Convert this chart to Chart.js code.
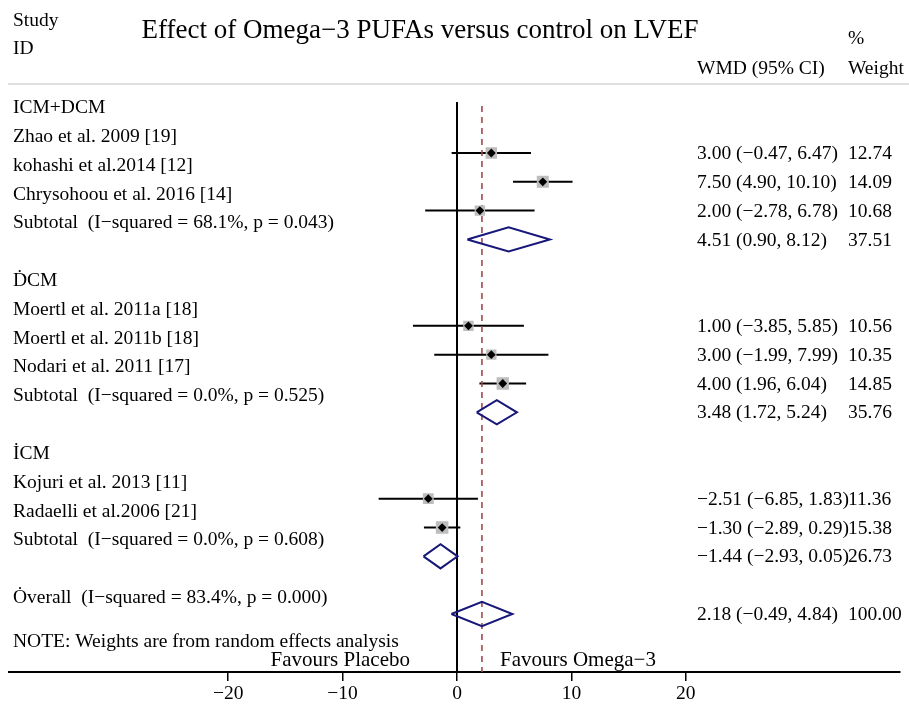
<!DOCTYPE html>
<html>
<head>
<meta charset="utf-8">
<script src="https://cdn.jsdelivr.net/npm/chart.js@4/dist/chart.umd.min.js"></script>
<style>
  html, body { margin: 0; padding: 0; background: #fff; }
  #wrap { position: relative; width: 909px; height: 704px; }
</style>
</head>
<body>
<div id="wrap"><canvas id="c" width="909" height="704"></canvas></div>
<script>
// ---------------- DATA ----------------
const groupNames = ['ICM+DCM', '\u1E0ACM', '\u0130CM'];
const studyNames = [
  'Zhao et al. 2009 [19]', 'kohashi et al.2014 [12]', 'Chrysohoou et al. 2016 [14]',
  'Moertl et al. 2011a [18]', 'Moertl et al. 2011b [18]', 'Nodari et al. 2011 [17]',
  'Kojuri et al. 2013 [11]', 'Radaelli et al.2006 [21]'
];
const studyGroup = [0, 0, 0, 1, 1, 1, 2, 2];
const studyWMD   = [3.00, 7.50, 2.00, 1.00, 3.00, 4.00, -2.51, -1.30];
const studyLow   = [-0.47, 4.90, -2.78, -3.85, -1.99, 1.96, -6.85, -2.89];
const studyHigh  = [6.47, 10.10, 6.78, 5.85, 7.99, 6.04, 1.83, 0.29];
const studyWeight = [12.74, 14.09, 10.68, 10.56, 10.35, 14.85, 11.36, 15.38];

const subI2     = ['68.1%', '0.0%', '0.0%'];
const subP      = ['0.043', '0.525', '0.608'];
const subWMD    = [4.51, 3.48, -1.44];
const subLow    = [0.90, 1.72, -2.93];
const subHigh   = [8.12, 5.24, 0.05];
const subWeight = [37.51, 35.76, 26.73];

const overallI2 = '83.4%';
const overallP = '0.000';
const overallWMD = 2.18;
const overallLow = -0.49;
const overallHigh = 4.84;
const overallWeight = 100.00;

const xTicks = [-20, -10, 0, 10, 20];

// ---------------- LAYOUT (style constants) ----------------
const FONT = '"Liberation Serif", "Times New Roman", serif';
const ROW_PX = 28.81;           // px per row
const FIRST_ROW_PX = 153;       // pixel of row 0
const AXIS_PX = 672;            // axis line pixel
const ZERO_PX = 457, PX_PER_UNIT = 11.44, LEFT_PX = 8, W = 909, H = 704;
const Y_MIN = -FIRST_ROW_PX / ROW_PX;
const Y_MAX = (AXIS_PX - FIRST_ROW_PX) / ROW_PX;
const X_MIN = (LEFT_PX - ZERO_PX) / PX_PER_UNIT;
const X_MAX = (W - ZERO_PX) / PX_PER_UNIT;
const LABEL_OFFSET = -0.56;     // left labels sit above the marks (rows)
const DIAMOND_HALF = 0.42;      // rows

const fmt = v => (v < 0 ? '\u2212' : '') + Math.abs(v).toFixed(2);
const ciText = (e, l, h) => `${fmt(e)} (${fmt(l)}, ${fmt(h)})`;

// compute row layout
const rows = [];
let k = -1;
const studyRow = [], subRow = [];
groupNames.forEach((g, gi) => {
  rows.push({ kind: 'header', label: g, row: k });
  k++;
  studyNames.forEach((s, si) => {
    if (studyGroup[si] !== gi) return;
    studyRow[si] = k;
    rows.push({ kind: 'study', label: s, row: k, right: ciText(studyWMD[si], studyLow[si], studyHigh[si]), weight: studyWeight[si].toFixed(2) });
    k++;
  });
  subRow[gi] = k;
  rows.push({ kind: 'sub', label: `Subtotal  (I\u2212squared = ${subI2[gi]}, p = ${subP[gi]})`, row: k,
              right: ciText(subWMD[gi], subLow[gi], subHigh[gi]), weight: subWeight[gi].toFixed(2) });
  k += 2;
});
const overallRow = k;
rows.push({ kind: 'overall', label: `\u022Everall  (I\u2212squared = ${overallI2}, p = ${overallP})`, row: overallRow,
            right: ciText(overallWMD, overallLow, overallHigh), weight: overallWeight.toFixed(2) });
const noteRow = overallRow + 0.97;

// ---------------- DATASETS ----------------
const datasets = [];
const lineDs = (data, color, width, dash) => ({
  type: 'line', data, borderColor: color, borderWidth: width, borderDash: dash || [],
  pointRadius: 0, fill: false, tension: 0, order: 5
});
// zero line and overall dashed line
datasets.push(lineDs([{ x: 0, y: -1.77 }, { x: 0, y: Y_MAX + 1 }], '#000', 2));
datasets.push(lineDs([{ x: overallWMD, y: -1.63 }, { x: overallWMD, y: Y_MAX + 1 }], '#a3494b', 1.6, [6, 5]));
// CI lines
studyNames.forEach((s, i) => {
  datasets.push(lineDs([{ x: studyLow[i], y: studyRow[i] }, { x: studyHigh[i], y: studyRow[i] }], '#000', 2));
});
// weight boxes
datasets.push({
  type: 'scatter', order: 3,
  data: studyNames.map((s, i) => ({ x: studyWMD[i], y: studyRow[i] })),
  pointStyle: 'rect', rotation: 0,
  pointRadius: studyWeight.map(w => 3.2 * Math.sqrt(w) / Math.SQRT2),
  backgroundColor: '#bdbdbd', borderWidth: 0
});
// point estimates
datasets.push({
  type: 'scatter', order: 1,
  data: studyNames.map((s, i) => ({ x: studyWMD[i], y: studyRow[i] })),
  pointStyle: 'rectRot', pointRadius: 4.4, backgroundColor: '#000', borderColor: '#000', borderWidth: 0
});
// diamonds
const diamond = (e, l, h, r) => [
  { x: l, y: r }, { x: e, y: r - DIAMOND_HALF }, { x: h, y: r }, { x: e, y: r + DIAMOND_HALF }, { x: l, y: r }
];
subWMD.forEach((e, gi) => datasets.push(Object.assign(lineDs(diamond(e, subLow[gi], subHigh[gi], subRow[gi]), '#17187a', 2), { order: 2 })));
datasets.push(Object.assign(lineDs(diamond(overallWMD, overallLow, overallHigh, overallRow), '#17187a', 2), { order: 2 }));

// ---------------- TEXT PLUGIN ----------------
const textPlugin = {
  id: 'forestText',
  afterDraw(chart) {
    const { ctx, scales: { x, y } } = chart;
    ctx.save();
    ctx.fillStyle = '#000';
    ctx.textBaseline = 'middle';
    const f = s => `${s}px ${FONT}`;
    // header
    ctx.font = f(19.5); ctx.textAlign = 'left';
    ctx.fillText('Study', 13, 21);
    ctx.fillText('ID', 13, 49);
    ctx.fillText('%', 848, 39);
    ctx.fillText('WMD (95% CI)', 697, 69);
    ctx.fillText('Weight', 848, 69);
    ctx.font = f(27); ctx.textAlign = 'center';
    ctx.fillText('Effect of Omega\u22123 PUFAs versus control on LVEF', 420, 31);
    // separator line
    ctx.strokeStyle = '#d4d4d4'; ctx.lineWidth = 1.5;
    ctx.beginPath(); ctx.moveTo(8, 84); ctx.lineTo(W, 84); ctx.stroke();
    // rows
    ctx.font = f(19.5); ctx.textAlign = 'left';
    rows.forEach(r => {
      ctx.fillText(r.label, 13, y.getPixelForValue(r.row + LABEL_OFFSET));
      if (r.right) {
        const py = y.getPixelForValue(r.row) + 1;
        ctx.fillText(r.right, 697, py);
        ctx.fillText(r.weight, 848, py);
      }
    });
    ctx.fillText('NOTE: Weights are from random effects analysis', 13, y.getPixelForValue(noteRow));
    // favours
    ctx.font = f(21);
    const x0 = x.getPixelForValue(0);
    ctx.textAlign = 'right';
    ctx.fillText('Favours Placebo', x0 - 47, 660);
    ctx.textAlign = 'left';
    ctx.fillText('Favours Omega\u22123', x0 + 43, 660);
    ctx.restore();
  }
};

// ---------------- CHART ----------------
const chart = new Chart(document.getElementById('c'), {
  type: 'scatter',
  data: { datasets },
  plugins: [textPlugin],
  options: {
    responsive: false,
    animation: false,
    events: [],
    layout: { padding: { left: LEFT_PX, right: -4, top: 0, bottom: 0 } },
    plugins: { legend: { display: false }, tooltip: { enabled: false }, title: { display: false } },
    scales: {
      x: {
        type: 'linear', position: 'bottom', min: X_MIN, max: X_MAX,
        afterBuildTicks: s => { s.ticks = xTicks.map(v => ({ value: v })); },
        afterFit: s => { s.height = H - AXIS_PX; s.paddingLeft = 0; s.paddingRight = 0; s.paddingTop = 0; s.paddingBottom = 0; },
        grid: { drawOnChartArea: false, drawTicks: true, tickLength: 9, color: '#000', lineWidth: 1.5 },
        border: { display: true, color: '#000', width: 2 },
        ticks: { color: '#000', font: { family: FONT, size: 19.5 }, padding: 1, autoSkip: false, maxRotation: 0,
                 callback: v => (v < 0 ? '\u2212' : '') + Math.abs(v) }
      },
      y: {
        type: 'linear', display: false, reverse: true, min: Y_MIN, max: Y_MAX,
        afterFit: s => { s.paddingTop = 0; s.paddingBottom = 0; s.paddingLeft = 0; s.paddingRight = 0; }
      }
    }
  }
});

// Re-anchor the value ranges to the real chart area so that the scales map onto the reference layout
const a = chart.chartArea;
chart.options.scales.x.min = (a.left - ZERO_PX) / PX_PER_UNIT;
chart.options.scales.x.max = (a.right - ZERO_PX) / PX_PER_UNIT;
chart.options.scales.y.min = (a.top - FIRST_ROW_PX) / ROW_PX;
chart.options.scales.y.max = (a.bottom - FIRST_ROW_PX) / ROW_PX;
chart.update();
</script>
</body>
</html>
